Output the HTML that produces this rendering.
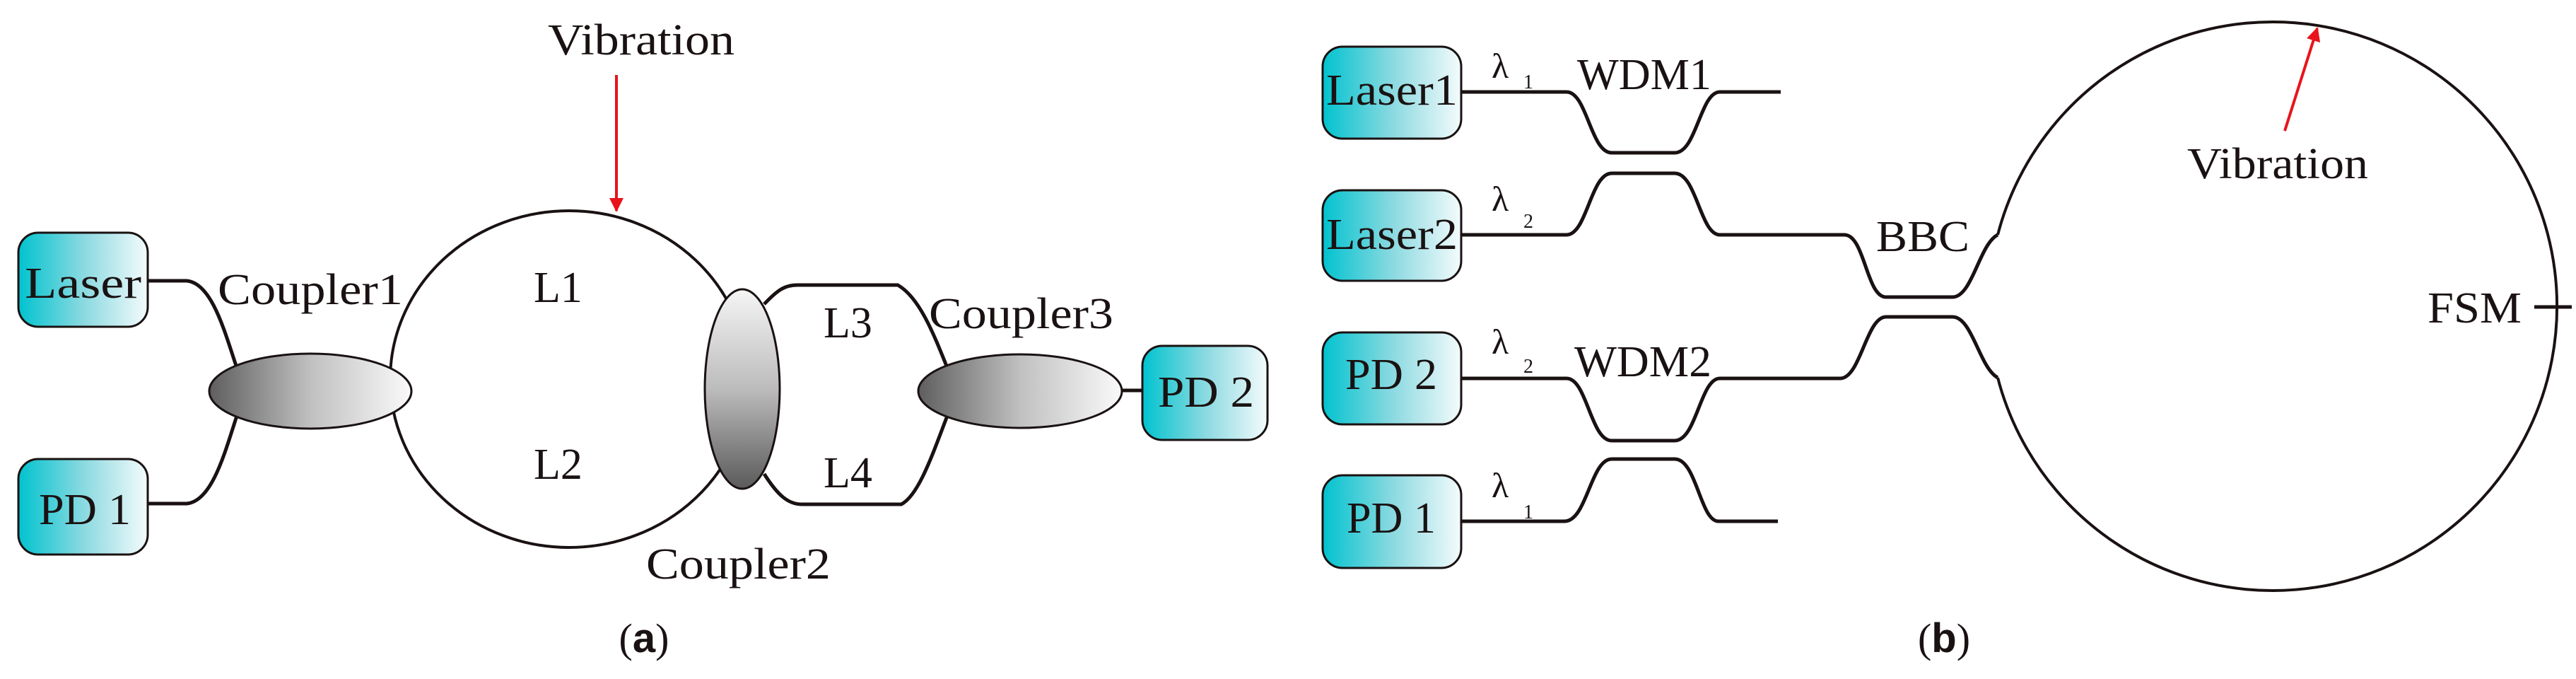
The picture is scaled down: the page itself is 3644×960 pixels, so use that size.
<!DOCTYPE html>
<html><head><meta charset="utf-8"><style>
html,body{margin:0;padding:0;background:#fff;width:3644px;height:960px;overflow:hidden}
svg{display:block}
text{font-family:"Liberation Serif",serif;fill:#1a1212}
</style></head><body>
<svg width="3644" height="960" viewBox="0 0 3644 960" xmlns="http://www.w3.org/2000/svg">
<defs>
<linearGradient id="box" x1="0" x2="1" y1="0" y2="0"><stop offset="0" stop-color="#00c3cf"/><stop offset="0.5" stop-color="#8ad9e0"/><stop offset="1" stop-color="#f4fbfc"/></linearGradient>
<linearGradient id="ell" x1="0" x2="1" y1="0" y2="0"><stop offset="0" stop-color="#5e5e5e"/><stop offset="0.5" stop-color="#c0c0c0"/><stop offset="1" stop-color="#fafafa"/></linearGradient>
<linearGradient id="ellv" x1="0" x2="0" y1="0" y2="1"><stop offset="0" stop-color="#f5f5f5"/><stop offset="0.5" stop-color="#bcbcbc"/><stop offset="1" stop-color="#5a5a5a"/></linearGradient>
<marker id="ar" viewBox="0 0 10 10" refX="9" refY="5" markerWidth="5" markerHeight="5" orient="auto"><path d="M0,0 L10,5 L0,10 z" fill="#e8141c"/></marker>
</defs>
<g fill="none" stroke="#1a1212" stroke-width="5">
<!-- (a) -->
<ellipse cx="805" cy="536" rx="253" ry="238" stroke-width="4"/>
<path d="M209,397 H264 C300,400 318,470 335,520"/>
<path d="M209,712 H264 C300,709 318,640 335,588"/>
<path d="M1081,430 C1100,410 1110,403 1128,403 H1270 C1300,420 1320,470 1340,520"/>
<path d="M1081,670 C1100,700 1115,713 1134,713 H1275 C1300,700 1320,640 1340,588"/>
<line x1="1585" y1="552" x2="1620" y2="552"/>
<!-- (b) -->
<path d="M2067,130 H2216 C2245,130 2250,216 2280,216 H2369 C2400,216 2405,130 2433,130 H2519"/>
<path d="M2067,332 H2216 C2245,332 2250,245 2280,245 H2369 C2400,245 2405,332 2433,332 H2609 C2638,332 2640,420 2668,420 H2762 C2790,420 2800,345 2826,332"/>
<path d="M2067,535 H2216 C2245,535 2250,623 2280,623 H2369 C2400,623 2405,535 2433,535 H2603 C2632,535 2640,448 2668,448 H2762 C2790,448 2800,520 2826,534"/>
<path d="M2067,737 H2213 C2245,737 2250,649 2280,649 H2369 C2400,649 2405,737 2431,737 H2515"/>
<path d="M2826,332 A402,402 0 1 1 2826,534" stroke-width="4"/>
<line x1="3585" y1="434" x2="3638" y2="434"/>
</g>
<!-- ellipses -->
<g stroke="#1a1212" stroke-width="3">
<ellipse cx="439" cy="553" rx="143" ry="53" fill="url(#ell)"/>
<ellipse cx="1050" cy="550" rx="53" ry="141" fill="url(#ellv)"/>
<ellipse cx="1443" cy="553" rx="144" ry="52" fill="url(#ell)"/>
<!-- boxes -->
<rect x="26" y="329" width="183" height="133" rx="28" fill="url(#box)"/>
<rect x="26" y="649" width="183" height="135" rx="28" fill="url(#box)"/>
<rect x="1616" y="489" width="177" height="133" rx="28" fill="url(#box)"/>
<rect x="1871" y="66" width="196" height="130" rx="28" fill="url(#box)"/>
<rect x="1871" y="269" width="196" height="128" rx="28" fill="url(#box)"/>
<rect x="1871" y="470" width="196" height="130" rx="28" fill="url(#box)"/>
<rect x="1871" y="672" width="196" height="131" rx="28" fill="url(#box)"/>
</g>
<!-- red arrows -->
<line x1="872" y1="106" x2="872" y2="298" stroke="#e8141c" stroke-width="4" marker-end="url(#ar)"/>
<line x1="3232" y1="185" x2="3278" y2="40" stroke="#e8141c" stroke-width="4" marker-end="url(#ar)"/>
<!-- text -->
<g font-size="62">
<text x="775" y="77" textLength="264" lengthAdjust="spacingAndGlyphs">Vibration</text>
<text x="35" y="421" textLength="165" lengthAdjust="spacingAndGlyphs">Laser</text>
<text x="55" y="741" textLength="130" lengthAdjust="spacingAndGlyphs">PD 1</text>
<text x="308" y="430" textLength="262" lengthAdjust="spacingAndGlyphs">Coupler1</text>
<text x="755" y="427">L1</text>
<text x="755" y="677">L2</text>
<text x="1165" y="477">L3</text>
<text x="1165" y="689">L4</text>
<text x="1314" y="464" textLength="261" lengthAdjust="spacingAndGlyphs">Coupler3</text>
<text x="1638" y="575" textLength="136" lengthAdjust="spacingAndGlyphs">PD 2</text>
<text x="914" y="818" textLength="261" lengthAdjust="spacingAndGlyphs">Coupler2</text>
<text x="1876" y="148" textLength="186" lengthAdjust="spacingAndGlyphs">Laser1</text>
<text x="1876" y="352" textLength="186" lengthAdjust="spacingAndGlyphs">Laser2</text>
<text x="1903" y="550" textLength="130" lengthAdjust="spacingAndGlyphs">PD 2</text>
<text x="1905" y="753" textLength="126" lengthAdjust="spacingAndGlyphs">PD 1</text>
<text x="2231" y="126" textLength="190" lengthAdjust="spacingAndGlyphs">WDM1</text>
<text x="2227" y="532" textLength="194" lengthAdjust="spacingAndGlyphs">WDM2</text>
<text x="2654" y="355" textLength="132" lengthAdjust="spacingAndGlyphs">BBC</text>
<text x="3094" y="252" textLength="256" lengthAdjust="spacingAndGlyphs">Vibration</text>
<text x="3434" y="456" textLength="133" lengthAdjust="spacingAndGlyphs">FSM</text>
</g>
<g font-size="50">
<text x="2110" y="110">λ</text><text x="2155" y="125" font-size="28">1</text>
<text x="2110" y="298">λ</text><text x="2155" y="322" font-size="28">2</text>
<text x="2110" y="500">λ</text><text x="2155" y="527" font-size="28">2</text>
<text x="2110" y="703">λ</text><text x="2155" y="733" font-size="28">1</text>
</g>
<g font-size="58">
<text x="911" y="922" text-anchor="middle">(<tspan font-family="Liberation Sans, sans-serif" font-weight="bold">a</tspan>)</text>
<text x="2750" y="922" text-anchor="middle">(<tspan font-family="Liberation Sans, sans-serif" font-weight="bold">b</tspan>)</text>
</g>
</svg>
</body></html>
